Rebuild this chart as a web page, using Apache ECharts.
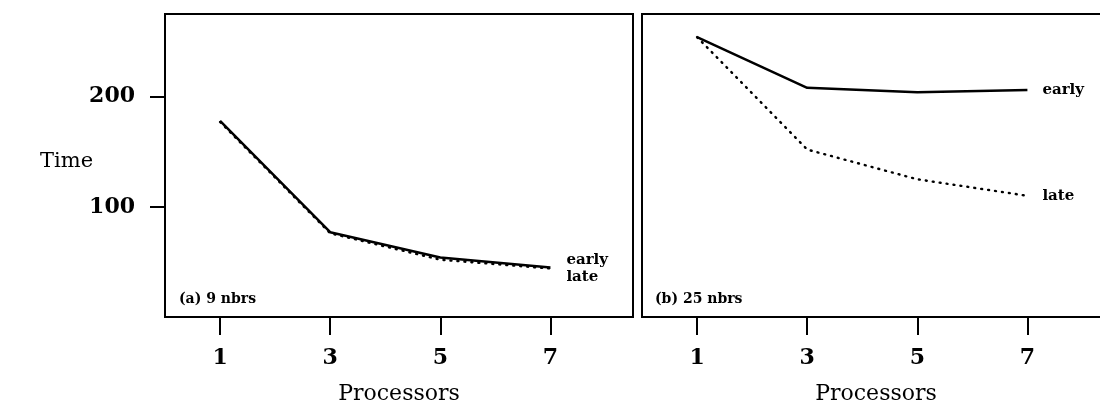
<!DOCTYPE html>
<html>
<head>
<meta charset="utf-8">
<script src="https://cdn.jsdelivr.net/npm/echarts@6/dist/echarts.min.js"></script>
<style>
  html, body { margin: 0; padding: 0; background: #fff; }
  #chart { width: 1100px; height: 403px; }
</style>
</head>
<body>
<div id="chart"></div>
<script>
// processors on the x axis
const processors = [1, 3, 5, 7];
const xTicks = [1, 3, 5, 7];
const yTicks = [100, 200];

// (a) 9 nbrs
const early9 = [178, 77, 54, 45];
const late9 = [177, 76, 52, 44];
// (b) 25 nbrs
const early25 = [254, 208, 204, 206];
const late25 = [254, 152, 125, 110];

const serif = '"DejaVu Serif", "Liberation Serif", serif';
const chart = echarts.init(document.getElementById('chart'));

function pairs(ys) {
    return processors.map((x, i) => [x, ys[i]]);
}

function xAxisFor(idx) {
    return {
        type: 'value',
        gridIndex: idx,
        min: 0,
        max: 8.5,
        splitLine: { show: false },
        axisLine: { show: false },
        axisTick: {
            show: true,
            inside: false,
            length: 18,
            customValues: xTicks,
            lineStyle: { color: '#000', width: 2 }
        },
        axisLabel: {
            customValues: xTicks,
            margin: 30,
            color: '#000',
            fontFamily: serif,
            fontWeight: 'bold',
            fontSize: 22
        },
        name: 'Processors',
        nameLocation: 'middle',
        nameGap: 66,
        nameTextStyle: { color: '#000', fontFamily: serif, fontSize: 22 }
    };
}

function lineSeries(name, ys, idx, dotted, offset) {
    return {
        type: 'line',
        name: name,
        xAxisIndex: idx,
        yAxisIndex: idx,
        data: pairs(ys),
        symbol: 'none',
        silent: true,
        lineStyle: dotted
            ? { color: '#000', width: 2.4, type: [1, 6], cap: 'round' }
            : { color: '#000', width: 2.5 },
        endLabel: {
            show: true,
            formatter: name,
            offset: offset,
            color: '#000',
            fontFamily: serif,
            fontWeight: 'bold',
            fontSize: 15
        },
        z: dotted ? 3 : 2
    };
}

chart.setOption({
    animation: false,
    backgroundColor: '#fff',
    grid: [
        { left: 165, top: 14, width: 468, height: 303, show: true, borderColor: '#000', borderWidth: 2, outerBoundsMode: 'none', containLabel: false },
        { left: 642, top: 14, width: 468, height: 303, show: true, borderColor: '#000', borderWidth: 2, outerBoundsMode: 'none', containLabel: false }
    ],
    xAxis: [xAxisFor(0), xAxisFor(1)],
    yAxis: [
        {
            type: 'value',
            gridIndex: 0,
            min: 0,
            max: 275,
            interval: 100,
            splitLine: { show: false },
            axisLine: { show: false },
            axisTick: {
                show: true,
                length: 15,
                customValues: yTicks,
                lineStyle: { color: '#000', width: 2 }
            },
            axisLabel: {
                customValues: yTicks,
                margin: 30,
                color: '#000',
                fontFamily: serif,
                fontWeight: 'bold',
                fontSize: 22
            }
        },
        {
            type: 'value',
            gridIndex: 1,
            min: 0,
            max: 275,
            show: false,
            splitLine: { show: false }
        }
    ],
    graphic: [
        {
            type: 'text', left: 40, top: 151,
            style: { text: 'Time', fill: '#000', font: '21px ' + serif }
        },
        {
            type: 'text', left: 179, top: 292,
            style: { text: '(a) 9 nbrs', fill: '#000', font: 'bold 14px ' + serif }
        },
        {
            type: 'text', left: 655, top: 292,
            style: { text: '(b) 25 nbrs', fill: '#000', font: 'bold 14px ' + serif }
        }
    ],
    series: [
        lineSeries('early', early9, 0, false, [8, -7]),
        lineSeries('late', late9, 0, true, [8, 9]),
        lineSeries('early', early25, 1, false, [7, 0]),
        lineSeries('late', late25, 1, true, [7, 0])
    ]
});
</script>
</body>
</html>
